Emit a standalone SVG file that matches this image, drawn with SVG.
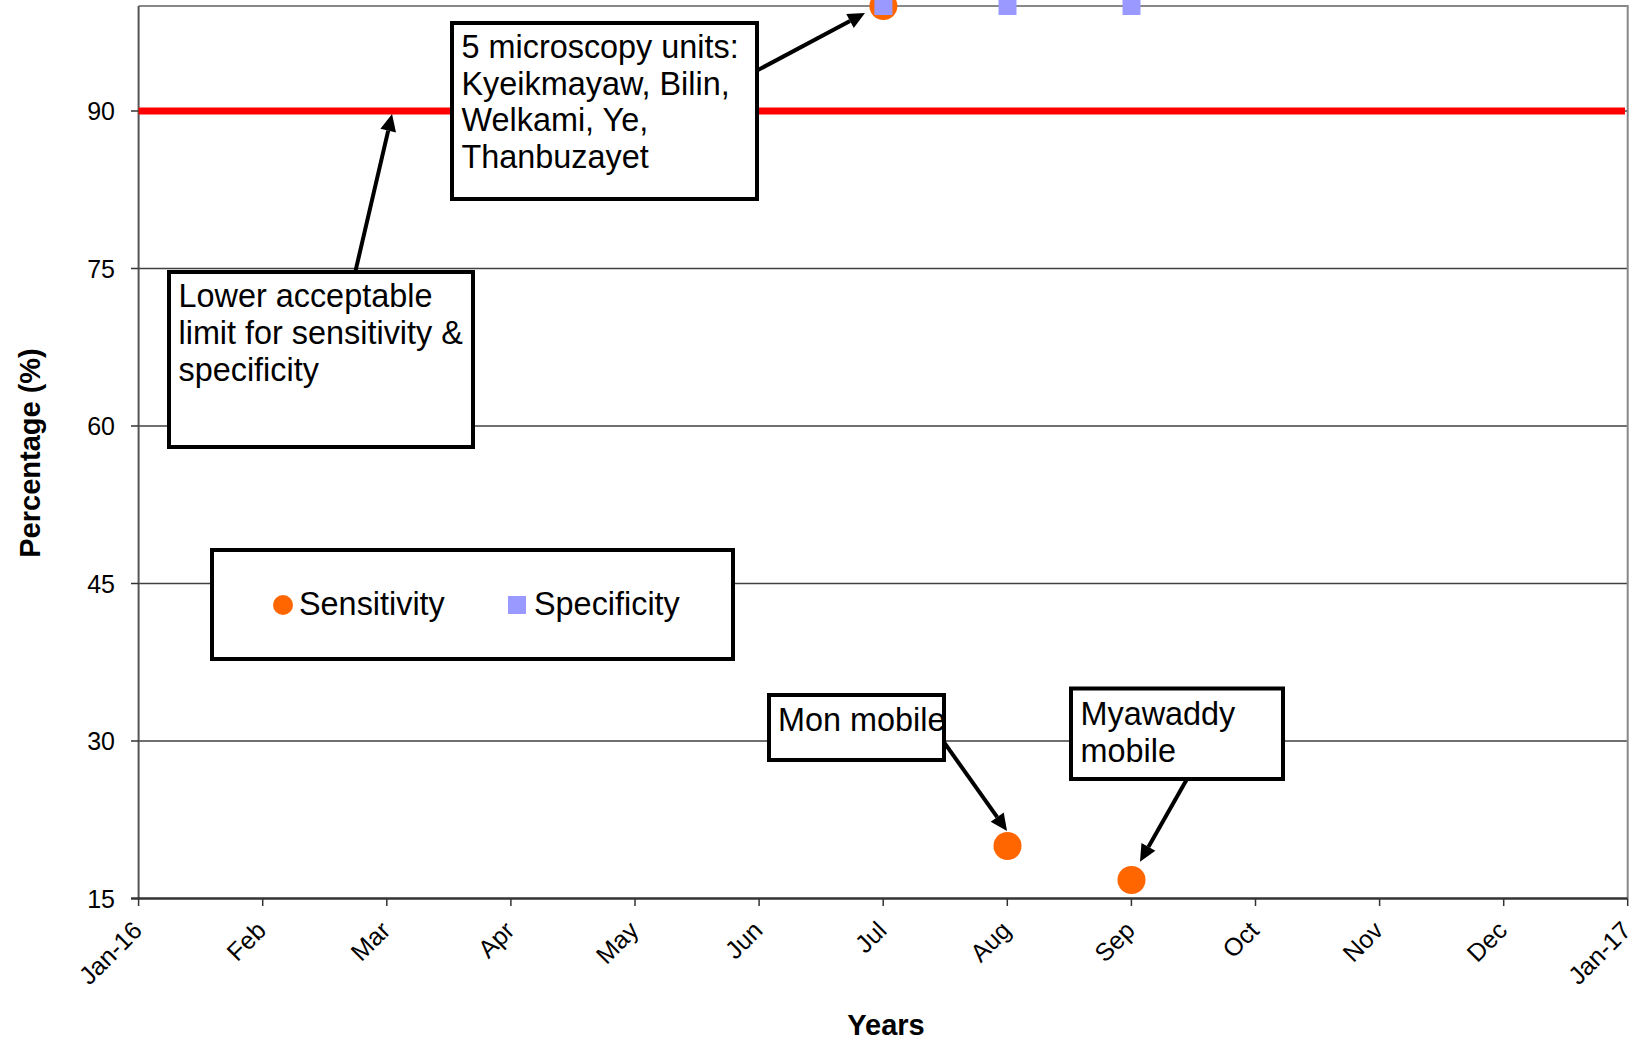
<svg xmlns="http://www.w3.org/2000/svg" width="1637" height="1044" viewBox="0 0 1637 1044">
<style>
text{font-family:"Liberation Sans",Arial,sans-serif;fill:#000}
.ann{font-size:32.4px}
.ylab{font-size:25px;text-anchor:end}
.xlab{font-size:25px;text-anchor:end}
.title{font-size:29px;font-weight:bold;text-anchor:middle}
.grid{stroke:#404040;stroke-width:1.3;fill:none}
.tick{stroke:#333;stroke-width:1.5}
.box{fill:#fff;stroke:#000;stroke-width:4}
.conn{stroke:#000;stroke-width:4;fill:none;marker-end:url(#ah)}
.sens{fill:#FF6600}
.spec{fill:#9999FF}
</style>
<defs>
<marker id="ah" markerUnits="userSpaceOnUse" markerWidth="17" markerHeight="16" refX="0" refY="8" orient="auto" overflow="visible">
<path d="M0,0 L17,8 L0,16 z" fill="#000"/>
</marker>
</defs>
<rect width="1637" height="1044" fill="#fff"/>
<g id="plot">
<line class="grid" x1="138.6" y1="268.5" x2="1627.7" y2="268.5"/>
<line class="grid" x1="138.6" y1="426" x2="1627.7" y2="426"/>
<line class="grid" x1="138.6" y1="583.5" x2="1627.7" y2="583.5"/>
<line class="grid" x1="138.6" y1="741" x2="1627.7" y2="741"/>
<line class="grid" x1="138.6" y1="111" x2="1627.7" y2="111"/>
<path d="M138.6,6 H1627.7 V898.5" stroke="#888" stroke-width="2" fill="none"/>
<line x1="138.6" y1="6" x2="138.6" y2="898.5" stroke="#555" stroke-width="2"/>
<line x1="131" y1="898.5" x2="1627.7" y2="898.5" stroke="#333" stroke-width="2.5"/>
<g class="tick">
<line x1="131" y1="111" x2="138.6" y2="111"/>
<line x1="131" y1="268.5" x2="138.6" y2="268.5"/>
<line x1="131" y1="426" x2="138.6" y2="426"/>
<line x1="131" y1="583.5" x2="138.6" y2="583.5"/>
<line x1="131" y1="741" x2="138.6" y2="741"/>
<line x1="138.6" y1="898.5" x2="138.6" y2="906"/>
<line x1="262.7" y1="898.5" x2="262.7" y2="906"/>
<line x1="386.8" y1="898.5" x2="386.8" y2="906"/>
<line x1="510.9" y1="898.5" x2="510.9" y2="906"/>
<line x1="635" y1="898.5" x2="635" y2="906"/>
<line x1="759.1" y1="898.5" x2="759.1" y2="906"/>
<line x1="883.2" y1="898.5" x2="883.2" y2="906"/>
<line x1="1007.3" y1="898.5" x2="1007.3" y2="906"/>
<line x1="1131.4" y1="898.5" x2="1131.4" y2="906"/>
<line x1="1255.5" y1="898.5" x2="1255.5" y2="906"/>
<line x1="1379.6" y1="898.5" x2="1379.6" y2="906"/>
<line x1="1503.7" y1="898.5" x2="1503.7" y2="906"/>
<line x1="1627.7" y1="898.5" x2="1627.7" y2="906"/>
</g>
<line x1="138.6" y1="111" x2="1625" y2="111" stroke="#FF0000" stroke-width="7"/>
<g class="ylab">
<text x="115" y="120">90</text>
<text x="115" y="277.5">75</text>
<text x="115" y="435">60</text>
<text x="115" y="592.5">45</text>
<text x="115" y="750">30</text>
<text x="115" y="907.5">15</text>
</g>
<g class="xlab">
<text transform="translate(143.6,932) rotate(-45)">Jan-16</text>
<text transform="translate(267.7,932) rotate(-45)">Feb</text>
<text transform="translate(391.8,932) rotate(-45)">Mar</text>
<text transform="translate(515.9,932) rotate(-45)">Apr</text>
<text transform="translate(640,932) rotate(-45)">May</text>
<text transform="translate(764.1,932) rotate(-45)">Jun</text>
<text transform="translate(888.2,932) rotate(-45)">Jul</text>
<text transform="translate(1012.3,932) rotate(-45)">Aug</text>
<text transform="translate(1136.4,932) rotate(-45)">Sep</text>
<text transform="translate(1260.5,932) rotate(-45)">Oct</text>
<text transform="translate(1384.6,932) rotate(-45)">Nov</text>
<text transform="translate(1508.7,932) rotate(-45)">Dec</text>
<text transform="translate(1632.7,932) rotate(-45)">Jan-17</text>
</g>
<text class="title" transform="translate(40,453) rotate(-90)">Percentage (%)</text>
<text class="title" x="886" y="1035">Years</text>
</g>
<g id="series-sensitivity">
<circle class="sens" cx="883.4" cy="6" r="14"/>
<circle class="sens" cx="1007.5" cy="846" r="14"/>
<circle class="sens" cx="1131.5" cy="880" r="14"/>
</g>
<g id="series-specificity">
<rect class="spec" x="874.4" y="-3" width="18" height="18"/>
<rect class="spec" x="998.5" y="-3" width="18" height="18"/>
<rect class="spec" x="1122.5" y="-3" width="18" height="18"/>
</g>
<g id="node-lower-limit">
<rect class="box" x="169" y="272" width="304" height="175"/>
<text class="ann" x="178.5" y="306.5">Lower acceptable</text>
<text class="ann" x="178.5" y="343.5">limit for sensitivity &amp;</text>
<text class="ann" x="178.5" y="380.5">specificity</text>
</g>
<g id="node-microscopy">
<rect class="box" x="452" y="23" width="305" height="176"/>
<text class="ann" x="461.5" y="58">5 microscopy units:</text>
<text class="ann" x="461.5" y="94.7">Kyeikmayaw, Bilin,</text>
<text class="ann" x="461.5" y="131.3">Welkami, Ye,</text>
<text class="ann" x="461.5" y="168">Thanbuzayet</text>
</g>
<g id="node-legend">
<rect class="box" x="212" y="550" width="521" height="109"/>
<circle class="sens" cx="283" cy="605" r="10"/>
<text class="ann" x="299" y="615">Sensitivity</text>
<rect class="spec" x="508" y="596" width="18" height="18"/>
<text class="ann" x="534" y="615">Specificity</text>
</g>
<g id="node-mon">
<rect class="box" x="769" y="695" width="175" height="65"/>
<text class="ann" x="778" y="730.7">Mon mobile</text>
</g>
<g id="node-myawaddy">
<rect class="box" x="1071" y="688.5" width="212" height="90.5"/>
<text class="ann" x="1080.5" y="725">Myawaddy</text>
<text class="ann" x="1080.5" y="761.7">mobile</text>
</g>
<g id="connectors">
<line class="conn" x1="355.5" y1="271" x2="388.2" y2="130.6"/>
<line class="conn" x1="758" y1="70" x2="850" y2="21"/>
<line class="conn" x1="943.6" y1="741.7" x2="997.2" y2="817.1"/>
<line class="conn" x1="1187" y1="779" x2="1148.4" y2="846.9"/>
</g>
</svg>
